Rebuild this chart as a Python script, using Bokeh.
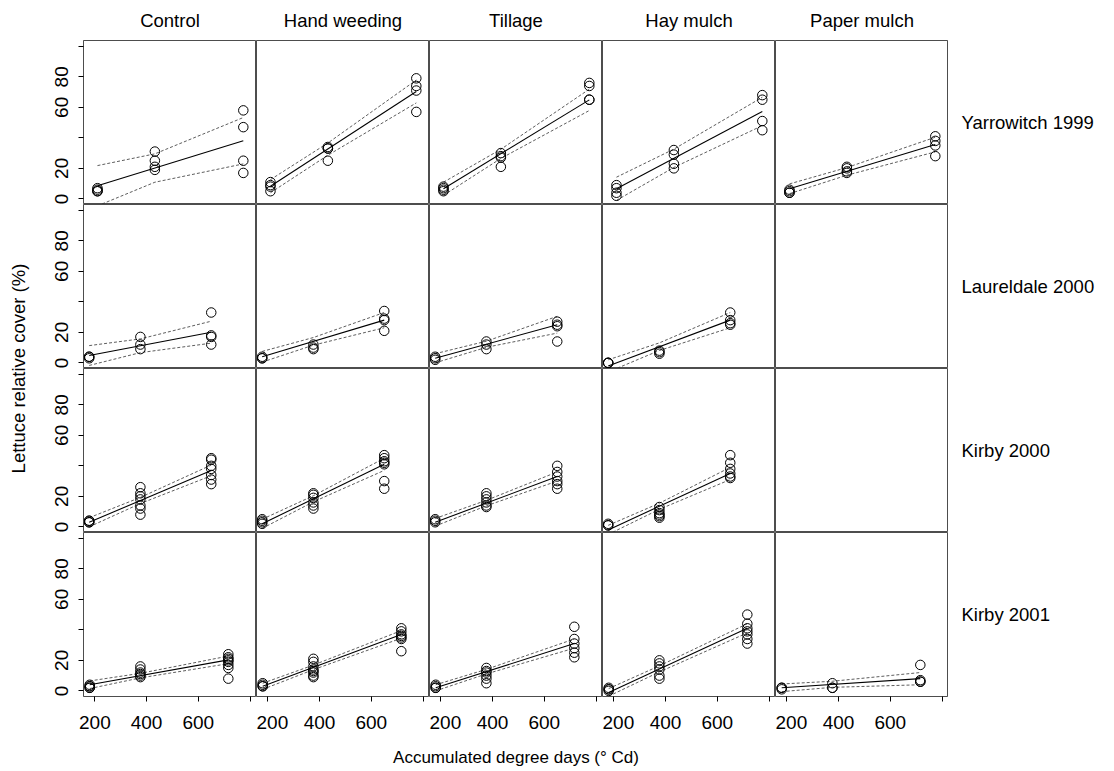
import math
from bokeh.plotting import figure
from bokeh.layouts import row, column
from bokeh.models import Range1d, FactorRange, FixedTicker, Spacer
from bokeh.core.properties import value
from bokeh.embed import file_html
from bokeh.resources import INLINE

# ---------------- data ----------------
treatments = ["Control", "Hand weeding", "Tillage", "Hay mulch", "Paper mulch"]
sites = ["Yarrowitch 1999", "Laureldale 2000", "Kirby 2000", "Kirby 2001"]

x_ticks = [200, 400, 600]
x_minor = [800]
y_ticks = [0, 20, 60, 80]
y_minor = [40, 100]

# accumulated degree days at the three sampling dates of each site
dd_yarrowitch_1999 = [210, 432, 774]
dd_laureldale_2000 = [178, 376, 650]
dd_kirby_2000 = [178, 376, 650]
dd_kirby_2001 = [180, 376, 716]

# observed cover (%) per sampling date, fitted line and half-width of the band
y99_control = [[5, 6, 7, 5], [31, 25, 21, 19], [58, 47, 25, 17]]
y99_control_fit = [8.6, 20.2, 38.1]
y99_control_ci = [13.2, 9.3, 15.2]
y99_hand = [[11, 9, 8, 5], [33, 33, 34, 25], [79, 74, 71, 57]]
y99_hand_fit = [8.3, 32.6, 70.4]
y99_hand_ci = [4.3, 4.0, 7.5]
y99_tillage = [[8, 6, 5, 7], [30, 28, 27, 21], [76, 74, 65, 65]]
y99_tillage_fit = [6.6, 29.5, 64.9]
y99_tillage_ci = [4.3, 3.0, 7.0]
y99_hay = [[9, 7, 4, 2], [32, 29, 23, 20], [68, 65, 51, 45]]
y99_hay_fit = [6.6, 26.6, 57.3]
y99_hay_ci = [7.6, 6.0, 9.3]
y99_paper = [[6, 5, 4, 4], [21, 20, 18, 17], [41, 38, 35, 28]]
y99_paper_fit = [6.6, 18.0, 35.6]
y99_paper_ci = [3.2, 2.5, 4.8]

l00_control = [[4, 4, 3], [17, 12, 9], [33, 18, 17, 12]]
l00_control_fit = [4.8, 11.2, 20.1]
l00_control_ci = [6.5, 4.5, 7.2]
l00_hand = [[4, 3, 3], [12, 10, 9], [34, 29, 28, 21]]
l00_hand_fit = [4.0, 14.1, 28.0]
l00_hand_ci = [3.5, 2.5, 5.0]
l00_tillage = [[4, 3, 2], [14, 12, 9], [27, 25, 24, 14]]
l00_tillage_fit = [3.0, 12.2, 25.0]
l00_tillage_ci = [3.0, 2.0, 5.5]
l00_hay = [[0, 0, 0], [8, 7, 6], [33, 28, 26, 25]]
l00_hay_fit = [-2.0, 10.6, 28.0]
l00_hay_ci = [4.0, 2.5, 5.0]

k00_control = [[4, 3, 3, 4], [26, 22, 20, 18, 14, 12, 8], [45, 44, 40, 38, 34, 31, 28]]
k00_control_fit = [3.0, 17.3, 37.0]
k00_control_ci = [3.0, 2.0, 3.5]
k00_hand = [[5, 4, 3, 2], [22, 21, 19, 16, 14, 12], [47, 45, 43, 42, 41, 30, 25]]
k00_hand_fit = [2.0, 18.4, 41.0]
k00_hand_ci = [3.0, 2.0, 4.0]
k00_tillage = [[5, 4, 3], [22, 20, 18, 16, 14, 13], [40, 36, 33, 30, 28, 25]]
k00_tillage_fit = [3.0, 15.6, 33.0]
k00_tillage_ci = [2.5, 1.8, 3.0]
k00_hay = [[2, 1, 1], [13, 11, 9, 8, 7, 6], [47, 42, 38, 35, 33, 32]]
k00_hay_fit = [-2.0, 13.5, 35.0]
k00_hay_ci = [3.0, 2.0, 4.0]

k01_control = [[4, 3, 2, 2, 3], [16, 14, 12, 11, 10, 9], [24, 22, 21, 20, 19, 17, 15, 8]]
k01_control_fit = [4.0, 10.0, 20.3]
k01_control_ci = [2.5, 1.5, 2.5]
k01_hand = [[5, 4, 3, 3], [21, 19, 16, 14, 13, 12, 10, 9], [41, 39, 37, 36, 35, 34, 26]]
k01_hand_fit = [3.0, 15.4, 37.0]
k01_hand_ci = [2.0, 1.5, 2.5]
k01_tillage = [[4, 3, 2, 2], [15, 13, 12, 10, 8, 5], [42, 34, 31, 28, 25, 22]]
k01_tillage_fit = [2.0, 12.6, 31.0]
k01_tillage_ci = [2.0, 1.5, 3.0]
k01_hay = [[2, 1, 1, 0], [20, 18, 16, 14, 10, 8], [50, 44, 41, 39, 37, 34, 31]]
k01_hay_fit = [-1.0, 14.4, 41.0]
k01_hay_ci = [2.5, 2.0, 3.0]
k01_paper = [[2, 2, 1], [5, 2, 2], [17, 7, 6, 6]]
k01_paper_fit = [2.0, 4.3, 8.0]
k01_paper_ci = [2.5, 2.0, 4.0]

site_dd = [dd_yarrowitch_1999, dd_laureldale_2000, dd_kirby_2000, dd_kirby_2001]
panels = {
    (0, 0): (y99_control, y99_control_fit, y99_control_ci),
    (0, 1): (y99_hand, y99_hand_fit, y99_hand_ci),
    (0, 2): (y99_tillage, y99_tillage_fit, y99_tillage_ci),
    (0, 3): (y99_hay, y99_hay_fit, y99_hay_ci),
    (0, 4): (y99_paper, y99_paper_fit, y99_paper_ci),
    (1, 0): (l00_control, l00_control_fit, l00_control_ci),
    (1, 1): (l00_hand, l00_hand_fit, l00_hand_ci),
    (1, 2): (l00_tillage, l00_tillage_fit, l00_tillage_ci),
    (1, 3): (l00_hay, l00_hay_fit, l00_hay_ci),
    (2, 0): (k00_control, k00_control_fit, k00_control_ci),
    (2, 1): (k00_hand, k00_hand_fit, k00_hand_ci),
    (2, 2): (k00_tillage, k00_tillage_fit, k00_tillage_ci),
    (2, 3): (k00_hay, k00_hay_fit, k00_hay_ci),
    (3, 0): (k01_control, k01_control_fit, k01_control_ci),
    (3, 1): (k01_hand, k01_hand_fit, k01_hand_ci),
    (3, 2): (k01_tillage, k01_tillage_fit, k01_tillage_ci),
    (3, 3): (k01_hay, k01_hay_fit, k01_hay_ci),
    (3, 4): (k01_paper, k01_paper_fit, k01_paper_ci),
}

# ---------------- style ----------------
FONT = "Liberation Sans"
FS_STRIP = "18.5px"
FS_TICK = "19px"
FS_XT = "17px"
FS_YT = "18.5px"
FW, FH = 173, 164
LB, BB = 40, 42
YT_W = 43
STRIP_H = 40
XT_H = 771 - 2 - STRIP_H - FH * 4 - BB
X_RANGE = (156, 825)
Y_RANGE = (-3.7, 103.8)


def base_fig(**kw):
    p = figure(output_backend="svg", toolbar_location=None, tools="", **kw)
    p.grid.visible = False
    p.background_fill_color = "white"
    p.border_fill_color = "white"
    return p


def panel(r, c):
    left = c == 0
    bottom = r == 3
    p = base_fig(frame_width=FW, frame_height=FH,
                 x_range=Range1d(*X_RANGE), y_range=Range1d(*Y_RANGE),
                 x_axis_location="below" if bottom else None,
                 y_axis_location="left" if left else None,
                 min_border_left=LB if left else 0, min_border_right=0,
                 min_border_top=0, min_border_bottom=BB if bottom else 0)
    p.outline_line_color = "black"
    p.outline_line_width = 0.7
    axes = []
    if bottom:
        ax = p.xaxis[0]
        ax.ticker = FixedTicker(ticks=x_ticks, minor_ticks=x_minor)
        ax.major_label_standoff = 14
        axes.append(ax)
    if left:
        ax = p.yaxis[0]
        ax.ticker = FixedTicker(ticks=y_ticks, minor_ticks=y_minor)
        ax.major_label_orientation = "vertical"
        ax.major_label_standoff = 10
        axes.append(ax)
    for ax in axes:
        ax.axis_line_color = None
        ax.major_tick_in = 0
        ax.major_tick_out = 5
        ax.minor_tick_in = 0
        ax.minor_tick_out = 5
        ax.major_tick_line_color = "black"
        ax.minor_tick_line_color = "black"
        ax.major_label_text_font = FONT
        ax.major_label_text_font_size = FS_TICK
        ax.major_label_text_color = "black"

    if (r, c) in panels:
        pts, fit, ci = panels[(r, c)]
        dd = site_dd[r]
        xs, ys = [], []
        for x, group in zip(dd, pts):
            for v in group:
                xs.append(x)
                ys.append(v)
        lo = [f - h for f, h in zip(fit, ci)]
        hi = [f + h for f, h in zip(fit, ci)]
        p.line(dd, lo, line_color="#333333", line_width=0.8, line_dash="3 2")
        p.line(dd, hi, line_color="#333333", line_width=0.8, line_dash="3 2")
        p.line([dd[0], dd[-1]], [fit[0], fit[-1]], line_color="black", line_width=1.1)
        p.scatter(xs, ys, marker="circle", size=9.5, fill_color=None,
                  line_color="black", line_width=1)
    return p


grid_rows = []
for r in range(4):
    grid_rows.append(row([panel(r, c) for c in range(5)], spacing=0))

# strip labels (treatments)
strip = base_fig(width=FW * 5, height=STRIP_H, x_range=FactorRange(*treatments),
                 y_range=Range1d(0, STRIP_H), min_border=0)
strip.axis.visible = False
strip.outline_line_color = None
strip.text(x=treatments, y=[STRIP_H - 20] * 5, text=treatments, text_align="center",
           text_baseline="middle", text_font=value(FONT), text_font_size=FS_STRIP,
           text_color="black")

# x title
xtitle_txt = ["Accumulated degree days (\u00b0 Cd)"]
xt = base_fig(width=FW * 5, height=XT_H, x_range=Range1d(0, 1), y_range=Range1d(0, XT_H),
              min_border=0)
xt.axis.visible = False
xt.outline_line_color = None
xt.text(x=[0.5], y=[XT_H - 19], text=xtitle_txt, text_align="center", text_baseline="middle",
        text_font=value(FONT), text_font_size=FS_XT, text_color="black")

main = column([row([Spacer(width=LB, height=STRIP_H), strip], spacing=0)] + grid_rows +
              [row([Spacer(width=LB, height=XT_H), xt], spacing=0)], spacing=0)

TOTAL_H = STRIP_H + FH * 4 + BB + XT_H

# y title
ytitle_txt = ["Lettuce relative cover (%)"]
yt = base_fig(width=YT_W, height=TOTAL_H, x_range=Range1d(0, YT_W), y_range=Range1d(0, TOTAL_H),
              min_border=0)
yt.axis.visible = False
yt.outline_line_color = None
yt.text(x=[18], y=[TOTAL_H - 368], text=ytitle_txt, angle=math.pi / 2, text_align="center",
        text_baseline="middle", text_font=value(FONT), text_font_size=FS_YT, text_color="black")

# row strip labels (sites)
RL_W = 1114 - 4 - YT_W - LB - FW * 5
rl = base_fig(width=RL_W, height=FH * 4, x_range=Range1d(0, RL_W),
              y_range=FactorRange(*reversed(sites)), min_border=0)
rl.axis.visible = False
rl.outline_line_color = None
rl.text(x=[13] * 4, y=sites, text=sites, text_align="left", text_baseline="middle",
        text_font=value(FONT), text_font_size=FS_STRIP, text_color="black")
right_col = column([Spacer(width=RL_W, height=STRIP_H), rl], spacing=0)

layout = row([yt, main, right_col], spacing=0)

open("out.html", "w").write(file_html(layout, INLINE))
